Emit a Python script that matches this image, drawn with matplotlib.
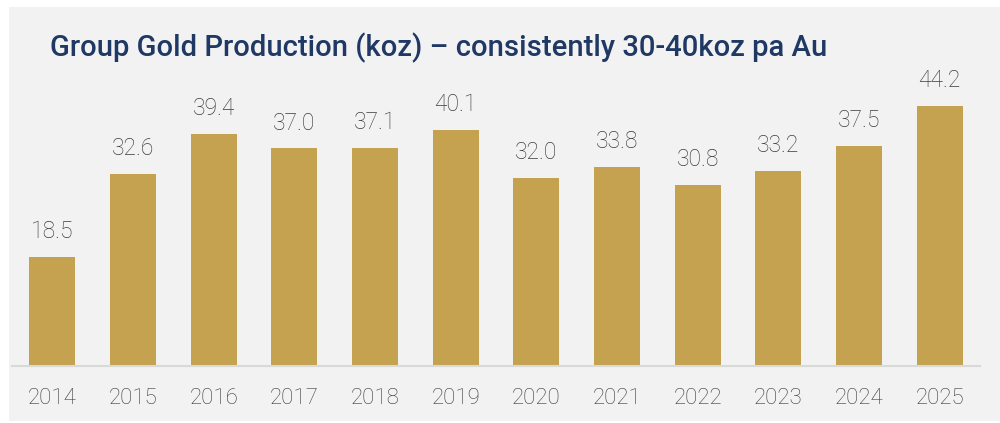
import matplotlib
matplotlib.use("Agg")
import matplotlib.pyplot as plt
from matplotlib.patches import Rectangle

years = ["2014", "2015", "2016", "2017", "2018", "2019", "2020", "2021", "2022", "2023", "2024", "2025"]
production = [18.5, 32.6, 39.4, 37.0, 37.1, 40.1, 32.0, 33.8, 30.8, 33.2, 37.5, 44.2]
title = "Group Gold Production (koz) – consistently 30-40koz pa Au"

W, H = 1000, 423
fig = plt.figure(figsize=(W / 100, H / 100), dpi=100)
fig.patch.set_facecolor("white")
fig.patches.append(Rectangle((9 / W, 2 / H), 1 - 9 / W, (H - 7 - 2) / H,
                             transform=fig.transFigure, facecolor="#f2f2f2",
                             edgecolor="none", zorder=-10))

ax_left, ax_right = 12, 980
ax_bottom, ax_top = 366, 80
ax = fig.add_axes([ax_left / W, (H - ax_bottom) / H, (ax_right - ax_left) / W, (ax_bottom - ax_top) / H])
ax.set_facecolor("none")
ax.set_zorder(5)

x = range(len(years))
bars = ax.bar(x, production, width=0.57, color="#c4a24f", edgecolor="none", zorder=2)
ax.set_xlim(-0.5, len(years) - 0.5)
ax.set_ylim(0, (ax_bottom - ax_top) / 5.88)

for xi, v in zip(x, production):
    ax.annotate(f"{v:.1f}", (xi, v), xytext=(0, 10), textcoords="offset points",
                ha="center", va="bottom", fontsize=16.5, color="#3c3c3c",
                family="Roboto", fontweight="light", annotation_clip=False)

ax.set_xticks(list(x))
ax.set_xticklabels(years, fontsize=16, color="#3c3c3c", family="Roboto", fontweight="light")
ax.tick_params(axis="x", length=0, pad=15.5)
ax.set_yticks([])
for s in ["top", "right", "left"]:
    ax.spines[s].set_visible(False)
ax.spines["bottom"].set_color("#d9d9d9")
ax.spines["bottom"].set_linewidth(1.5)

fig.text(50 / W, (H - 48) / H, title, fontsize=21.1, color="#1f3864",
         family="Roboto", fontweight="medium", ha="left", va="center")

fig.savefig("out.png", dpi=100)
